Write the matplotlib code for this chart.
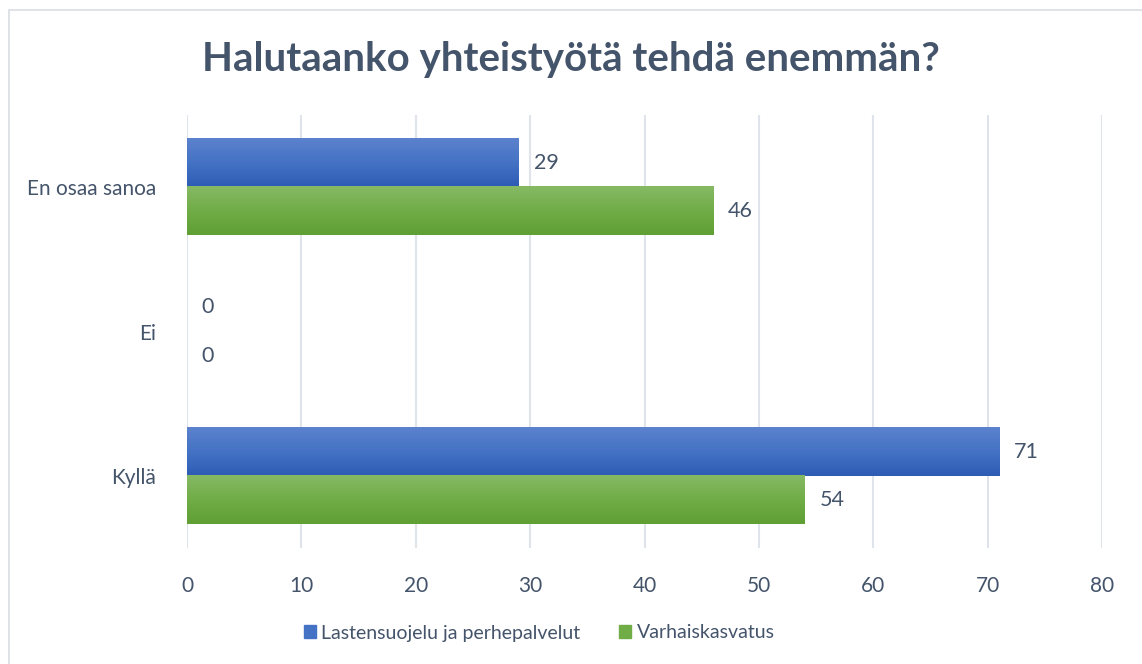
import numpy as np
import matplotlib.pyplot as plt
from matplotlib.patches import Rectangle
from matplotlib.colors import LinearSegmentedColormap

# data
categories = ['Kyllä', 'Ei', 'En osaa sanoa']
lastensuojelu = [71, 0, 29]
varhaiskasvatus = [54, 0, 46]
series_names = ['Lastensuojelu ja perhepalvelut', 'Varhaiskasvatus']

txt_col = '#44546a'
plt.rcParams['font.family'] = ['Lato', 'DejaVu Sans']

fig = plt.figure(figsize=(11.42, 6.64), dpi=100)
ax = fig.add_axes([187/1142, 1-548/664, (1102-187)/1142, (548-115)/664])

# outer chart border
fig.patches.append(Rectangle((9/1142, -0.1), 1.2, 1-10/664+0.1, transform=fig.transFigure,
                             fill=False, edgecolor='#d9dde3', linewidth=1.2))

y = np.arange(len(categories))
h = 1/3
blue_cm = LinearSegmentedColormap.from_list('b', ['#2e5cb5', '#4472c4', '#5c82cd'])
green_cm = LinearSegmentedColormap.from_list('g', ['#5f9f33', '#70ad47', '#86b964'])

grad = np.linspace(0, 1, 64).reshape(-1, 1)
for vals, off, cm in [(lastensuojelu, h/2, blue_cm), (varhaiskasvatus, -h/2, green_cm)]:
    bars = ax.barh(y + off, vals, height=h, color='none', zorder=2)
    for b, v in zip(bars, vals):
        x0, y0 = b.get_x(), b.get_y()
        if v > 0:
            ax.imshow(grad, cmap=cm, origin='lower', aspect='auto',
                      extent=(x0, x0 + b.get_width(), y0, y0 + b.get_height()), zorder=2)
        ax.text(v + 1.3, y0 + b.get_height()/2, str(v), va='center', ha='left',
                fontsize=15.5, color=txt_col)

ax.set_xlim(0, 80)
ax.set_ylim(-0.5, 2.5)
ax.set_xticks(range(0, 81, 10))
ax.set_yticks(y)
ax.set_yticklabels(categories)
ax.grid(axis='x', color='#dfe3ea', linewidth=1.5, zorder=0)
ax.set_axisbelow(True)
for s in ax.spines.values():
    s.set_visible(False)
ax.tick_params(length=0, labelsize=15, labelcolor=txt_col)
ax.tick_params(axis='x', pad=20)
ax.tick_params(axis='y', pad=22)

fig.text(0.5, 1-60/664, 'Halutaanko yhteistyötä tehdä enemmän?', ha='center', va='center',
         fontsize=29, fontweight='bold', color=txt_col)

handles = [Rectangle((0, 0), 1, 1, color='#4472c4'), Rectangle((0, 0), 1, 1, color='#70ad47')]
fig.legend(handles, series_names, loc='center', bbox_to_anchor=(0.4724, 1-633/664), ncol=2,
           frameon=False, fontsize=14, labelcolor=txt_col, handlelength=0.6, handleheight=0.6,
           handletextpad=0.3, columnspacing=2.0)

fig.savefig('out.png', dpi=100)
